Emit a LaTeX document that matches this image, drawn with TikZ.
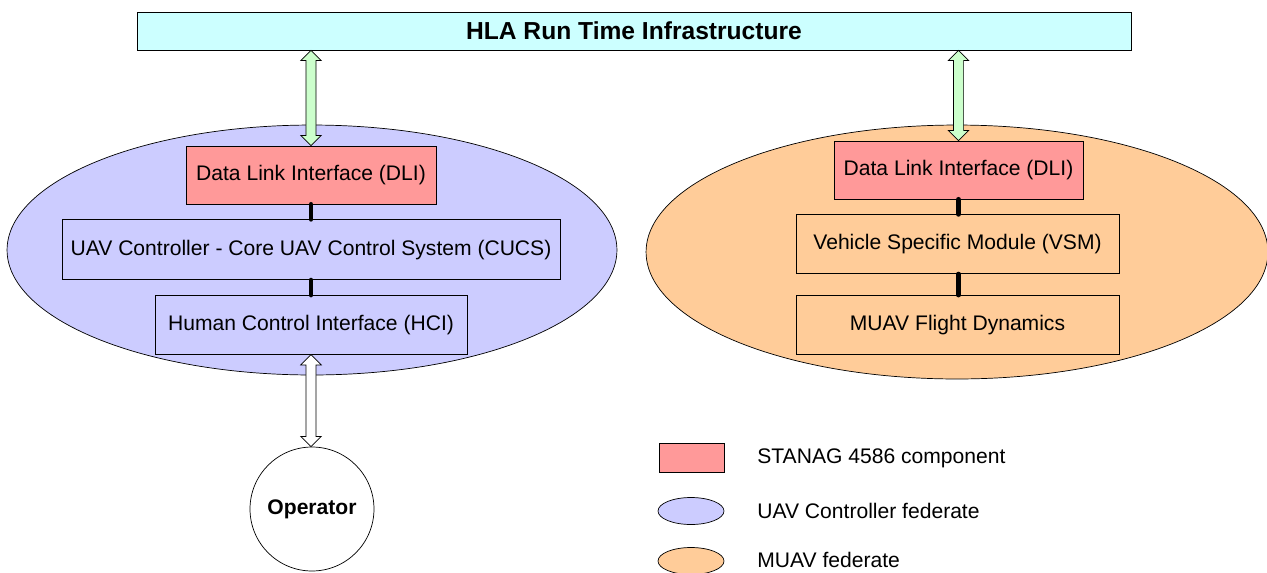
\documentclass[tikz,border=0pt]{standalone}
\usepackage{fontspec}
\setmainfont{Liberation Sans}
\usetikzlibrary{
  shapes.geometric, % Shape "ellipse"
  positioning,      % Function "of" (e.g. [below=of x])
  calc,             % let ... in
}
\definecolor{rticyan}{HTML}{CCFFFF}
\definecolor{stanagred}{HTML}{FF9999}
\definecolor{ctrlblue}{HTML}{CCCCFF}
\definecolor{muavorange}{HTML}{FFCC99}
\definecolor{arrgreen}{HTML}{CCFFCC}
\def\myboxdist{0.3cm}
\def\myheadw{5.8pt}  % half width of arrow head
\def\myshaftw{2.9pt} % half width of arrow shaft
\def\myheadl{5.8pt}  % length of arrow head
\tikzset{
  font=\fontsize{12}{14}\selectfont,
  semithick,
  my box/.style={
    draw,
    rectangle,
    inner sep=0.5mm,
    minimum height=1.18cm
  },
  stanag/.style={
    my box,
    fill=stanagred
  },
  federate/.style={
    draw,
    ellipse,
    inner sep=0mm
  },
  key text/.style={
    anchor=west,
    inner sep=0mm
  },
  link/.style={
    line width=2.7pt,
    line cap=round
  },
  fat arrow/.style={
    draw,
    to path={
      let \p1=(\tikztostart), \p2=(\tikztotarget) in
      (\x1,\y1) -- ({\x1+\myheadw},{\y1-\myheadl}) -- ({\x1+\myshaftw},{\y1-\myheadl})
      -- ({\x1+\myshaftw},{\y2+\myheadl}) -- ({\x1+\myheadw},{\y2+\myheadl}) -- (\x1,\y2)
      -- ({\x1-\myheadw},{\y2+\myheadl}) -- ({\x1-\myshaftw},{\y2+\myheadl})
      -- ({\x1-\myshaftw},{\y1-\myheadl}) -- ({\x1-\myheadw},{\y1-\myheadl}) -- cycle
    }
  }
}

\begin{document}
\begin{tikzpicture}[x=0.02cm,y=-0.02cm,node distance=\myboxdist]
\useasboundingbox (0,0) rectangle (1267,572);
% federates
\node[federate,fill=ctrlblue,minimum width=12.2cm,minimum height=5cm]     (fedL) at (312,250) {};
\node[federate,fill=muavorange,minimum width=12.44cm,minimum height=5.08cm] (fedR) at (957,252) {};
% run time infrastructure
\node[draw,fill=rticyan,minimum width=19.88cm,minimum height=0.76cm,
      font=\fontsize{14}{16}\selectfont\bfseries] (rti) at (634,31) {HLA Run Time Infrastructure};
% UAV controller
\node[stanag,minimum width=5cm,minimum height=1.16cm] (dliL) at (311,175)    {Data Link Interface (DLI)};
\node[my box,minimum width=9.96cm,minimum height=1.2cm] (cucs) [below=of dliL] {UAV Controller - Core UAV Control System (CUCS)};
\node[my box,minimum width=6.24cm]                      (hci)  [below=of cucs] {Human Control Interface (HCI)};
% MUAV
\node[stanag,minimum width=4.98cm,minimum height=1.16cm] (dliR) at (958.5,170) {Data Link Interface (DLI)};
\node[my box,minimum width=6.46cm] (vsm)  [below=of dliR,xshift=-0.02cm]         {Vehicle Specific Module (VSM)};
\node[my box,minimum width=6.46cm] (muav) [below=0.42cm of vsm]                  {MUAV Flight Dynamics};
% operator
\node[draw,circle,minimum size=2.48cm,inner sep=0mm,font=\fontsize{12}{14}\selectfont\bfseries] (op) at (312,509) {Operator};
% legend
\node[stanag,minimum width=1.3cm,minimum height=0.58cm]                 (keyS) at (691.5,457.5) {};
\node[federate,fill=ctrlblue,minimum width=1.32cm,minimum height=0.54cm]   (keyC) at (691,511) {};
\node[federate,fill=muavorange,minimum width=1.32cm,minimum height=0.54cm] (keyM) at (691,561) {};
\node[key text] (txtS) at (757,458) {STANAG 4586 component};
\node[key text] (txtC) at (757,511) {UAV Controller federate};
\node[key text] (txtM) at (757,560) {MUAV federate};
% connections
\draw[link] (dliL.south) -- (cucs.north);
\draw[link] (cucs.south) -- (hci.north);
\draw[link] (dliR.south) -- (vsm.north -| dliR);
\draw[link] (vsm.south -| dliR) -- (muav.north -| dliR);
\draw[fat arrow,fill=arrgreen] (rti.south -| dliL) to (dliL.north);
\draw[fat arrow,fill=arrgreen] (rti.south -| dliR) to (dliR.north);
\draw[fat arrow,fill=white]    (hci.south) to (op.north);
\end{tikzpicture}
\end{document}
